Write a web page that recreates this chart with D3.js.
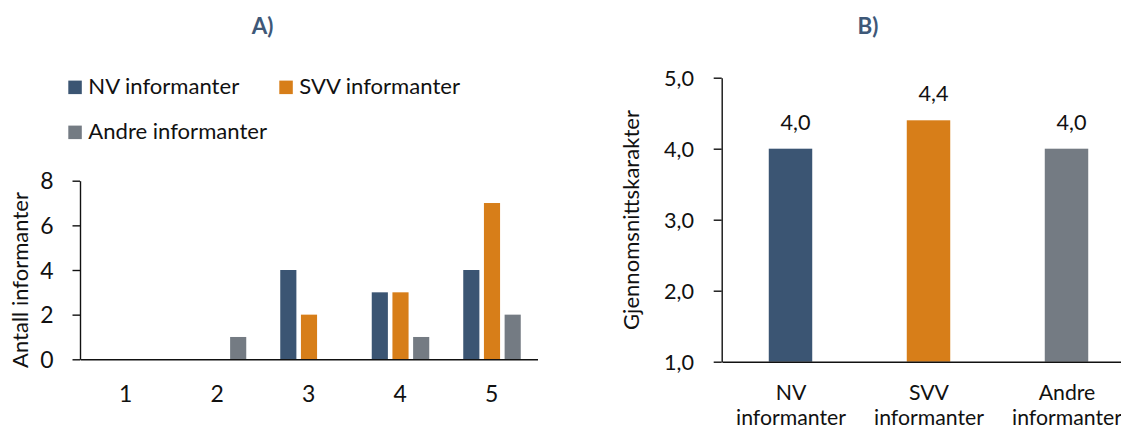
<!DOCTYPE html>
<html><head><meta charset="utf-8">
<script src="https://cdn.jsdelivr.net/npm/d3@7"></script>
<style>
body{margin:0;background:#fff}
svg{display:block}
text{font-family:Lato,"Open Sans",sans-serif;fill:#111}
</style>
</head><body>
<svg id="c" width="1121" height="430"></svg>
<script>
// ---- data ----
const categoriesA = ["1","2","3","4","5"];
const seriesNames = ["NV informanter","SVV informanter","Andre informanter"];
const nvCounts = [0,0,4,3,4];
const svvCounts = [0,0,2,3,7];
const andreCounts = [0,1,0,1,2];
const ticksA = [0,2,4,6,8];
const categoriesB = [["NV","informanter"],["SVV","informanter"],["Andre","informanter"]];
const meanGrades = [4.0,4.4,4.0];
const ticksB = [1,2,3,4,5];
const titles = ["A)","B)"];
const yLabelA = "Antall informanter";
const yLabelB = "Gjennomsnittskarakter";
const colors = ["#3B5573","#D77E19","#747B83"];
const titleColor = "#3E5878";

const svg = d3.select("#c");
function fit(str, target, weight){
  const t = svg.append("text").attr("font-size",100).attr("font-weight",weight||"normal").text(str);
  const w = t.node().getComputedTextLength(); t.remove();
  return 100*target/w;
}
const fsLegend = fit("NV informanter",151);
const fsAxisA = fit(yLabelA,176);
const fsAxisB = fit(yLabelB,220);
const fsXB = fit("informanter",110);
const fsTickB = fit("5,0",30);
const fsTitle = fit("A)",21.7,"bold");
const fsTickA = fsLegend * 1.04;

const fmt = d => d3.format(".1f")(d).replace(".",",");

// ---- Panel A ----
const seriesData = [nvCounts, svvCounts, andreCounts];
const xA = d3.scaleBand().domain(categoriesA).range([80,537.5]).padding(0);
const x1 = d3.scaleBand().domain(seriesNames)
  .range([xA.bandwidth()/2 - 28.5, xA.bandwidth()/2 + 29]).paddingInner(0.22);
const yA = d3.scaleLinear().domain([0,8]).range([359.3,180.7]);

const gA = svg.append("g");
categoriesA.forEach((c,i)=>{
  seriesNames.forEach((s,j)=>{
    const v = seriesData[j][i];
    gA.append("rect")
      .attr("x", xA(c)+x1(s))
      .attr("width", x1.bandwidth())
      .attr("y", yA(v))
      .attr("height", yA(0)-yA(v))
      .attr("fill", colors[j]);
  });
});

const yAxisA = d3.axisLeft(yA).tickValues(ticksA).tickSize(7.5).tickSizeOuter(0).tickPadding(19).tickFormat(d3.format("d"));
const gyA = svg.append("g").attr("transform","translate(80,0)").call(yAxisA);
const xAxisA = d3.axisBottom(xA).tickSize(0).tickSizeOuter(0).tickPadding(0);
const gxA = svg.append("g").attr("transform","translate(0,359.3)").call(xAxisA);
gxA.selectAll(".tick text").attr("y",null).attr("dy",null).attr("transform","translate(0,43)");
[gyA,gxA].forEach(g=>{
  g.selectAll(".domain,.tick line").attr("stroke","#111").attr("stroke-width",1.4);
  g.selectAll("text").attr("font-size",fsTickA).attr("font-family",null).attr("fill","#111");
  g.attr("font-family",null);
});
gyA.selectAll(".tick text").attr("dy","0.36em");

svg.append("text").attr("transform","translate(20,280) rotate(-90)")
  .attr("text-anchor","middle").attr("dy","0.36em").attr("font-size",fsAxisA).text(yLabelA);

// legend
const legendPos = [[68.3,94],[279.3,94],[68.3,139]];
seriesNames.forEach((s,j)=>{
  const [lx,ly] = legendPos[j];
  svg.append("rect").attr("x",lx).attr("y",ly-13.4).attr("width",13.5).attr("height",13.5).attr("fill",colors[j]);
  svg.append("text").attr("x",lx+20).attr("y",ly).attr("font-size",fsLegend).text(s);
});

svg.append("text").attr("x",262.5).attr("y",33.5).attr("text-anchor","middle")
  .attr("font-weight","bold").attr("font-size",fsTitle).style("fill",titleColor).text(titles[0]);

// ---- Panel B ----
const namesB = categoriesB.map(d=>d.join(" "));
const xB = d3.scaleBand().domain(namesB).range([722,1136]).padding(0);
const barW = xB.bandwidth()*0.315;
const yB = d3.scaleLinear().domain([1,5]).range([361.7,77.7]);

namesB.forEach((n,i)=>{
  const cx = xB(n)+xB.bandwidth()/2 - 0.5;
  const v = meanGrades[i];
  svg.append("rect").attr("x",cx-barW/2).attr("width",barW)
    .attr("y",yB(v)).attr("height",yB(1)-yB(v)).attr("fill",colors[i]);
  svg.append("text").attr("x",cx+5).attr("y",yB(v)-19).attr("text-anchor","middle")
    .attr("font-size",fsTickB).text(fmt(v));
});

const yAxisB = d3.axisLeft(yB).tickValues(ticksB).tickSize(8).tickSizeOuter(0).tickPadding(19.7).tickFormat(fmt);
const gyB = svg.append("g").attr("transform","translate(721.7,0)").call(yAxisB);
const xAxisB = d3.axisBottom(xB).tickSize(0).tickSizeOuter(0).tickFormat(()=> "");
const gxB = svg.append("g").attr("transform","translate(0,361.7)").call(xAxisB);
[gyB,gxB].forEach(g=>{
  g.selectAll(".domain,.tick line").attr("stroke","#111").attr("stroke-width",1.4);
  g.selectAll("text").attr("font-size",fsTickB).attr("fill","#111");
  g.attr("font-family",null);
});
gyB.selectAll(".tick text").attr("dy","0.36em");
gxB.selectAll(".tick").each(function(d,i){
  const t = d3.select(this).append("text").attr("text-anchor","middle").attr("font-size",fsXB).attr("fill","#111");
  categoriesB[i].forEach((line,k)=>{
    t.append("tspan").attr("x",0).attr("y",38.3 + k*25.5).text(line);
  });
});

svg.append("text").attr("transform","translate(631,220) rotate(-90)")
  .attr("text-anchor","middle").attr("dy","0.36em").attr("font-size",fsAxisB).text(yLabelB);

svg.append("text").attr("x",868).attr("y",34).attr("text-anchor","middle")
  .attr("font-weight","bold").attr("font-size",fsTitle).style("fill",titleColor).text(titles[1]);
</script>
</body></html>
